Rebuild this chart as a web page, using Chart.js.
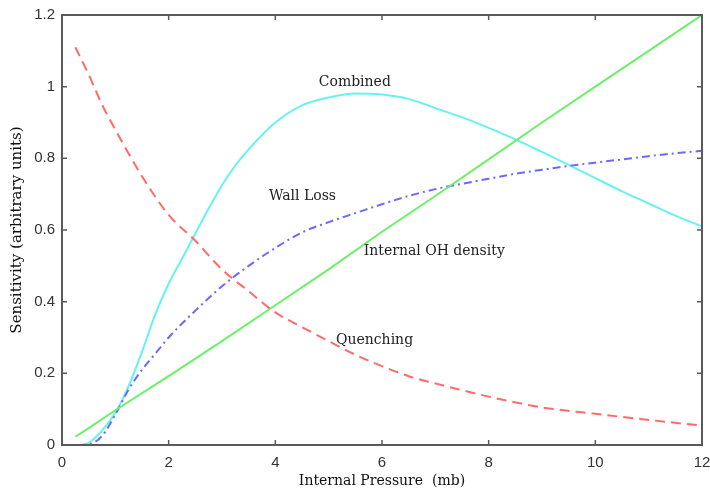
<!DOCTYPE html>
<html>
<head>
<meta charset="utf-8">
<script src="https://cdn.jsdelivr.net/npm/chart.js@4/dist/chart.umd.min.js"></script>
<style>
html,body{margin:0;padding:0;background:#fff;}
#wrap{width:710px;height:492px;position:relative;}
</style>
</head>
<body>
<div id="wrap"><canvas id="c" width="710" height="492"></canvas></div>
<script>
// ---- data ----
const xTicks = [0, 2, 4, 6, 8, 10, 12];
const xTickLabels = ['0', '2', '4', '6', '8', '10', '12'];
const yTicks = [0, 0.2, 0.4, 0.6, 0.8, 1.0, 1.2];
const yTickLabels = ['0', '0.2', '0.4', '0.6', '0.8', '1', '1.2'];

const quenchX = [0.25, 0.5, 0.75, 1, 1.5, 2, 2.5, 3, 3.5, 4, 4.5, 5, 5.5, 6, 6.5, 7, 7.5, 8, 9, 10, 11, 12];
const quenchY = [1.11, 1.034, 0.95, 0.88, 0.75, 0.642, 0.57, 0.49, 0.429, 0.37, 0.329, 0.29, 0.252, 0.22, 0.192, 0.172, 0.153, 0.135, 0.105, 0.087, 0.07, 0.054];

const ohX = [0.25, 0.5, 1, 2, 3, 4, 5, 6, 7, 8, 9, 10, 11, 12];
const ohY = [0.023, 0.047, 0.097, 0.192, 0.29, 0.39, 0.49, 0.595, 0.695, 0.797, 0.9, 1.0, 1.1, 1.2];

const combX = [0.35, 0.5, 0.75, 1, 1.25, 1.5, 1.75, 2, 2.25, 2.5, 2.75, 3, 3.25, 3.5, 4, 4.5, 5, 5.5, 6, 6.5, 7, 7.5, 8, 8.5, 9, 9.5, 10, 10.5, 11, 11.5, 12];
const combY = [0, 0.006, 0.04, 0.09, 0.165, 0.26, 0.365, 0.45, 0.52, 0.59, 0.66, 0.725, 0.78, 0.825, 0.9, 0.948, 0.97, 0.981, 0.978, 0.966, 0.94, 0.915, 0.885, 0.853, 0.818, 0.782, 0.745, 0.708, 0.674, 0.64, 0.61];

const wallX = [0.3, 0.5, 0.75, 1, 1.25, 1.5, 1.75, 2, 2.5, 3, 3.5, 4, 4.5, 5, 5.5, 6, 6.5, 7, 7.5, 8, 8.5, 9, 9.5, 10, 10.5, 11, 11.5, 12];
const wallY = [0, 0.002, 0.025, 0.085, 0.155, 0.21, 0.255, 0.3, 0.375, 0.443, 0.5, 0.55, 0.593, 0.622, 0.647, 0.672, 0.695, 0.714, 0.729, 0.743, 0.757, 0.768, 0.779, 0.788, 0.797, 0.806, 0.814, 0.821];

const labelNames = ['Combined', 'Wall Loss', 'Internal OH density', 'Quenching'];
const labelX = [5.49, 4.51, 6.98, 5.86];
const labelY = [1.011, 0.693, 0.539, 0.293];

const xTitle = 'Internal Pressure  (mb)';
const yTitle = 'Sensitivity (arbitrary units)';

function pts(xs, ys) { return xs.map((x, i) => ({x: x, y: ys[i]})); }

const serif = '"DejaVu Serif", "Liberation Serif", serif';
const sans = '"Liberation Sans", Arial, sans-serif';

const framePlugin = {
  id: 'frame',
  afterDatasetsDraw(chart) {
    const ctx = chart.ctx;
    const a = chart.chartArea;
    const xs = chart.scales.x, ys = chart.scales.y;
    ctx.save();
    ctx.strokeStyle = '#5a5a5a';
    ctx.lineWidth = 1.5;
    const tl = 5;
    ctx.beginPath();
    xTicks.forEach(v => {
      const p = xs.getPixelForValue(v);
      if (v === 0 || v === 12) return;
      ctx.moveTo(p, a.bottom); ctx.lineTo(p, a.bottom - tl);
      ctx.moveTo(p, a.top); ctx.lineTo(p, a.top + tl);
    });
    yTicks.forEach(v => {
      const p = ys.getPixelForValue(v);
      if (v === 0 || Math.abs(v - 1.2) < 1e-9) return;
      ctx.moveTo(a.left, p); ctx.lineTo(a.left + tl, p);
      ctx.moveTo(a.right, p); ctx.lineTo(a.right - tl, p);
    });
    ctx.stroke();
    ctx.lineWidth = 2;
    ctx.strokeStyle = '#5a5a5a';
    ctx.strokeRect(a.left, a.top, a.right - a.left, a.bottom - a.top);
    // annotations
    ctx.fillStyle = '#222';
    ctx.font = '14px ' + serif;
    ctx.textAlign = 'center';
    ctx.textBaseline = 'middle';
    labelNames.forEach((t, i) => {
      ctx.fillText(t, xs.getPixelForValue(labelX[i]), ys.getPixelForValue(labelY[i]));
    });
    ctx.restore();
  }
};

new Chart(document.getElementById('c'), {
  type: 'scatter',
  data: {
    datasets: [
      {label: 'Quenching', data: pts(quenchX, quenchY), showLine: true, borderColor: '#ff6a6a', borderWidth: 2, borderDash: [10, 6], pointRadius: 0, cubicInterpolationMode: 'monotone', fill: false},
      {label: 'Internal OH density', data: pts(ohX, ohY), showLine: true, borderColor: '#6af06a', borderWidth: 2, pointRadius: 0, tension: 0, fill: false},
      {label: 'Wall Loss', data: pts(wallX, wallY), showLine: true, borderColor: '#6a6aff', borderWidth: 2, borderDash: [8, 4, 2, 4], pointRadius: 0, cubicInterpolationMode: 'monotone', fill: false},
      {label: 'Combined', data: pts(combX, combY), showLine: true, borderColor: '#66f2f2', borderWidth: 2, pointRadius: 0, cubicInterpolationMode: 'monotone', fill: false}
    ]
  },
  options: {
    responsive: false,
    animation: false,
    layout: {padding: {left: 0, right: 8, top: 15, bottom: 0}},
    plugins: {legend: {display: false}, tooltip: {enabled: false}},
    scales: {
      x: {
        type: 'linear', min: 0, max: 12,
        afterBuildTicks: s => { s.ticks = xTicks.map(v => ({value: v})); },
        afterFit: s => { s.height = 47; s.paddingLeft = 0; s.paddingRight = 0; },
        grid: {display: false, drawTicks: false},
        border: {display: false},
        ticks: {padding: 9, color: '#333', font: {family: sans, size: 15}, maxRotation: 0,
          callback: (v) => { const i = xTicks.indexOf(v); return i >= 0 ? xTickLabels[i] : ''; }},
        title: {display: true, text: xTitle, color: '#111', font: {family: serif, size: 14}, padding: {top: 0, bottom: 2}}
      },
      y: {
        type: 'linear', min: 0, max: 1.2,
        afterBuildTicks: s => { s.ticks = yTicks.map(v => ({value: v})); },
        afterFit: s => { s.width = 62; s.paddingTop = 0; s.paddingBottom = 0; },
        grid: {display: false, drawTicks: false},
        border: {display: false},
        ticks: {padding: 7, color: '#333', font: {family: sans, size: 15},
          callback: (v) => { const i = yTicks.findIndex(t => Math.abs(t - v) < 1e-9); return i >= 0 ? yTickLabels[i] : ''; }},
        title: {display: true, text: yTitle, color: '#111', font: {family: serif, size: 15}, padding: {top: 8, bottom: 0}}
      }
    }
  },
  plugins: [framePlugin]
});
</script>
</body>
</html>
